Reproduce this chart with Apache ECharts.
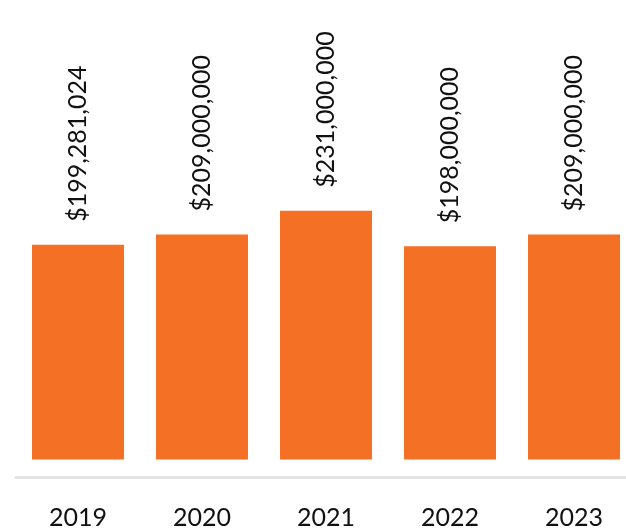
<!DOCTYPE html>
<html>
<head>
<meta charset="utf-8">
<script src="https://cdn.jsdelivr.net/npm/echarts@6/dist/echarts.min.js"></script>
<style>html,body{margin:0;padding:0;background:#fff;overflow:hidden;}#chart{width:640px;height:531px;}</style>
</head>
<body>
<div id="chart"></div>
<script>
var categories = ['2019', '2020', '2021', '2022', '2023'];
var values = [199281024, 209000000, 231000000, 198000000, 209000000];

function fmt(v) {
  return '$' + String(v).replace(/\B(?=(\d{3})+(?!\d))/g, ',');
}

var chart = echarts.init(document.getElementById('chart'), null, {renderer: 'canvas'});
chart.setOption({
  animation: false,
  grid: {left: 16, top: 0, width: 620, height: 477.5, containLabel: false},
  xAxis: {
    type: 'category',
    data: categories,
    axisLine: {show: true, onZero: false, lineStyle: {color: '#e4e4e4', width: 3}},
    axisTick: {show: false},
    axisLabel: {color: '#111', fontSize: 25, fontFamily: 'Lato', margin: 28}
  },
  yAxis: {
    type: 'value',
    min: -16700000,
    max: 426600000,
    show: false,
    splitLine: {show: false}
  },
  series: [{
    type: 'bar',
    data: values,
    barCategoryGap: '25.8%',
    itemStyle: {color: '#f37024'},
    label: {
      show: true,
      position: 'top',
      distance: 23,
      rotate: 90,
      align: 'left',
      verticalAlign: 'middle',
      color: '#111',
      fontSize: 25,
      fontFamily: 'Lato',
      formatter: function (p) { return fmt(p.value); }
    }
  }]
});
</script>
</body>
</html>
